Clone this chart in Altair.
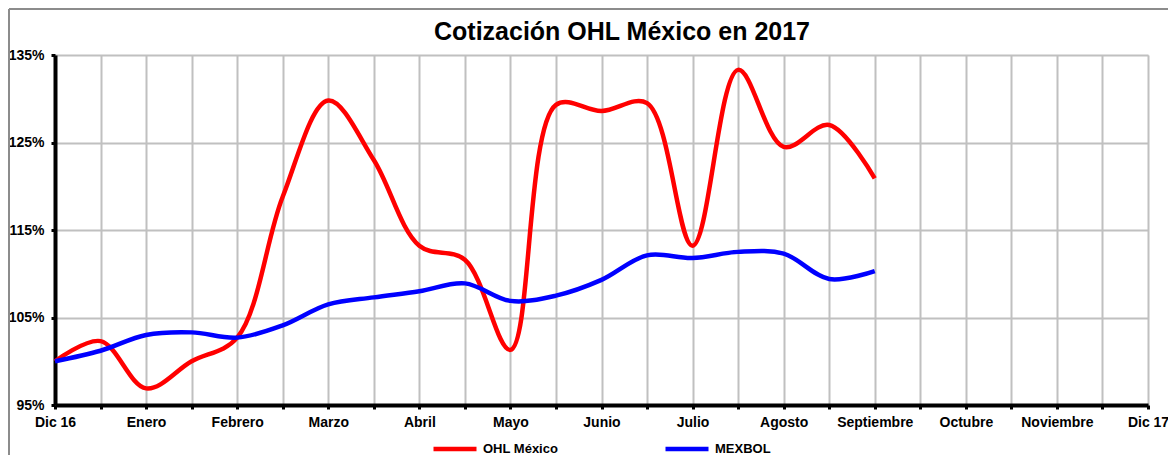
import json
import altair as alt
import pandas as pd

months = ["Dic 16", "Enero", "Febrero", "Marzo", "Abril", "Mayo", "Junio",
          "Julio", "Agosto", "Septiembre", "Octubre", "Noviembre", "Dic 17"]
# half-month positions (0 = Dic 16, 2 = Enero, ... 18 = Septiembre)
steps = list(range(19))
ohl = [100.0, 102.3, 96.9, 100.0, 102.7, 118.8, 129.8, 123.0, 113.2, 111.6,
       101.3, 129.3, 128.6, 129.5, 113.2, 133.3, 124.5, 127.0, 120.9]
mexbol = [100.0, 101.2, 103.0, 103.3, 102.7, 104.1, 106.5, 107.3, 108.0, 108.9,
          106.9, 107.5, 109.3, 112.1, 111.8, 112.5, 112.3, 109.4, 110.3]
series_names = ["OHL México", "MEXBOL"]
series_colors = ["#FF0000", "#0000FF"]
title_text = "Cotización OHL México en 2017"

df = pd.concat([
    pd.DataFrame({"step": steps, "valor": ohl, "serie": series_names[0], "orden": 0}),
    pd.DataFrame({"step": steps, "valor": mexbol, "serie": series_names[1], "orden": 1}),
])

FONT = "Liberation Sans"
W, H = 1093, 350
label_expr = f"datum.value % 2 == 0 ? {json.dumps(months)}[datum.value / 2] : ''"

lines = alt.Chart(df).mark_line(interpolate="catmull-rom", strokeWidth=4.5).encode(
    x=alt.X("step:Q",
            scale=alt.Scale(domain=[0, 24], nice=False, zero=False),
            axis=alt.Axis(values=list(range(25)), labelExpr=label_expr, title=None,
                          domainColor="black", domainWidth=4, tickColor="black",
                          tickSize=4, tickWidth=3, gridColor="#c0c0c0", gridWidth=2,
                          labelFont=FONT, labelFontSize=14, labelFontWeight="bold",
                          labelColor="black", labelPadding=6, labelOverlap=False,
                          labelFlush=False)),
    y=alt.Y("valor:Q",
            scale=alt.Scale(domain=[95, 135], nice=False, zero=False),
            axis=alt.Axis(values=[95, 105, 115, 125, 135], labelExpr="datum.value + '%'",
                          title=None, domainColor="black", domainWidth=4,
                          tickColor="black", tickSize=4, tickWidth=3,
                          gridColor="#c0c0c0", gridWidth=2,
                          labelFont=FONT, labelFontSize=14, labelFontWeight="bold",
                          labelColor="black", labelPadding=7)),
    color=alt.Color("serie:N",
                    scale=alt.Scale(domain=series_names, range=series_colors),
                    legend=alt.Legend(title=None, orient="none", direction="horizontal",
                                      legendX=376, legendY=370, symbolType="stroke",
                                      symbolSize=1849, symbolStrokeWidth=4.5,
                                      labelFont=FONT, labelFontSize=13,
                                      labelFontWeight="bold", labelColor="black",
                                      labelOffset=4, columnPadding=97, padding=0)),
    order=alt.Order("orden:Q"),
    detail="serie:N",
)

# outer chart frame (top and left edges)
frame_top = alt.Chart().mark_rule(color="#8c8c8c", strokeWidth=2).encode(
    x=alt.value(-46), x2=alt.value(W + 20), y=alt.value(-46))
frame_left = alt.Chart().mark_rule(color="#8c8c8c", strokeWidth=2).encode(
    x=alt.value(-46), y=alt.value(-46), y2=alt.value(H + 50))

title = alt.Chart().mark_text(text=title_text, font=FONT, fontSize=25,
                              fontWeight="bold", color="black", align="center",
                              baseline="alphabetic").encode(
    x=alt.value(567), y=alt.value(-15))

chart = alt.layer(frame_top, frame_left, title, lines).properties(
    width=W,
    height=H,
    padding={"left": 47, "top": 47, "right": 20, "bottom": 50},
    autosize=alt.AutoSizeParams(type="none"),
).configure_view(stroke="#8c8c8c", strokeWidth=2).configure(background="white")

chart.save("out.html", embed_options={"renderer": "svg", "actions": False})
